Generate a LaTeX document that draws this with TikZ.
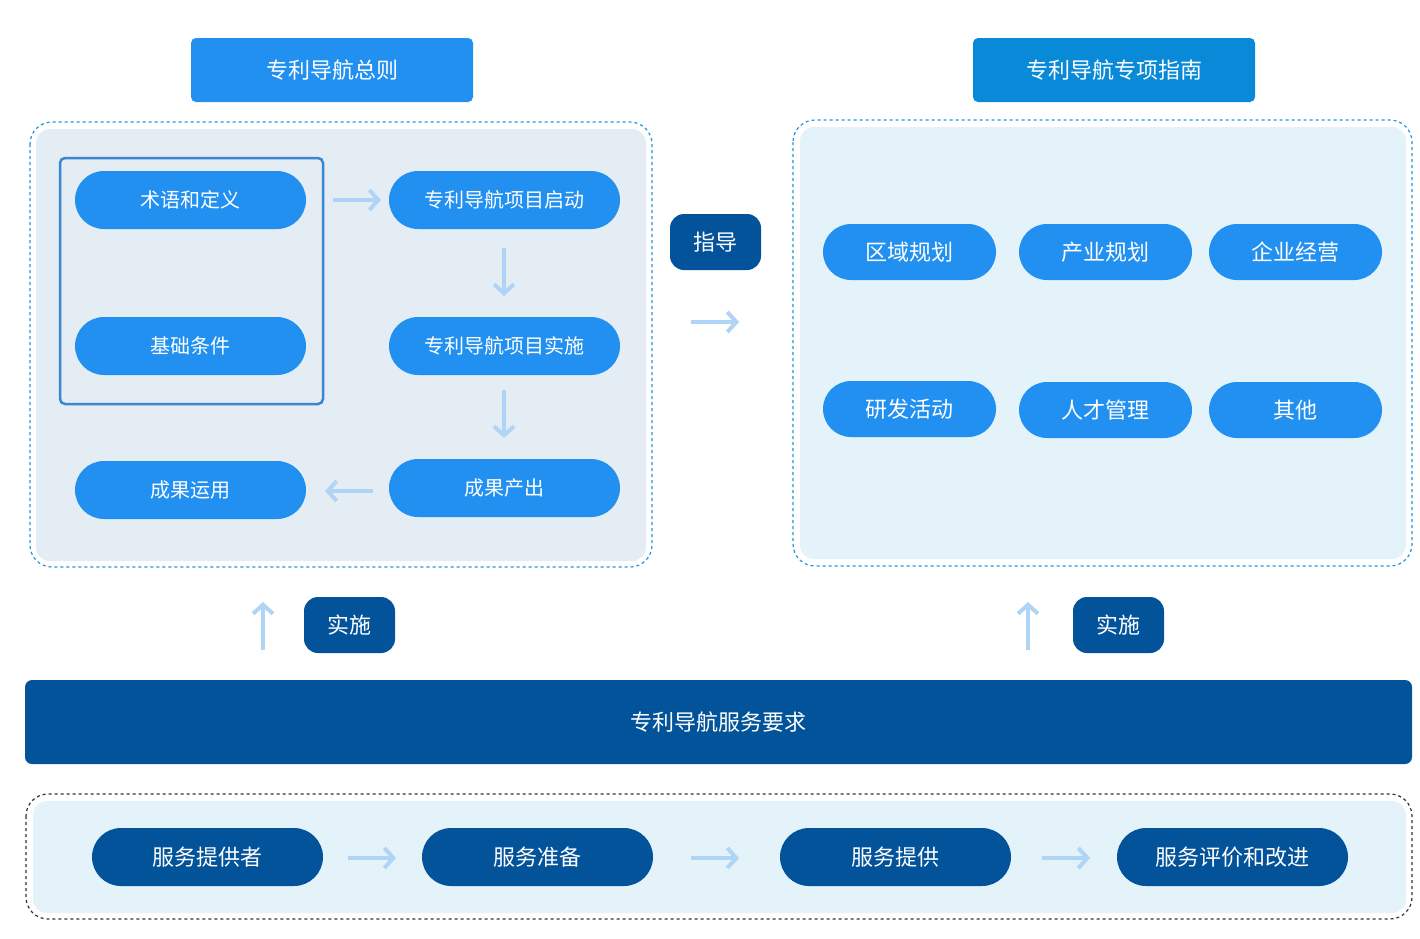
\documentclass[tikz,border=0pt]{standalone}
\usepackage{fontspec}
\setmainfont{Noto Sans CJK SC}
\usetikzlibrary{arrows.meta}
\definecolor{bb}{RGB}{33,144,240}
\definecolor{tb}{RGB}{8,138,216}
\definecolor{db}{RGB}{3,83,155}
\definecolor{gbg}{RGB}{228,236,244}
\definecolor{lbg}{RGB}{228,242,250}
\definecolor{ar}{RGB}{176,212,246}
\definecolor{dashc}{RGB}{30,150,220}
\definecolor{fr}{RGB}{58,134,208}
\tikzset{
 pill/.style={fill=bb,rounded corners=29pt,text=white,font=\fontsize{20}{24}\selectfont},
 dpill/.style={pill,fill=db,font=\fontsize{22}{26}\selectfont},
 rpill/.style={pill,rounded corners=28pt,font=\fontsize{22}{26}\selectfont},
 tag/.style={fill=db,rounded corners=14pt,text=white,font=\fontsize{22}{26}\selectfont},
 ttl/.style={rounded corners=5pt,text=white,font=\fontsize{22}{26}\selectfont},
 arr/.style={draw=ar,line width=4pt,-{Straight Barb[length=9pt,width=20pt,line width=4pt]}},
}
\begin{document}
\begin{tikzpicture}[x=1pt,y=-1pt]
\useasboundingbox (0,0) rectangle (1420,938);
% panels
\draw[dashc,dashed,line width=1.2pt,rounded corners=22pt] (30,122) rectangle (652,567);
\fill[gbg,rounded corners=14pt] (36,129) rectangle (646,561);
\draw[dashc,dashed,line width=1.2pt,rounded corners=22pt] (793,120) rectangle (1412,566);
\fill[lbg,rounded corners=14pt] (800,127) rectangle (1406,559);
\draw[black!80,dashed,line width=1.2pt,rounded corners=22pt] (26,794) rectangle (1412,919);
\fill[lbg,rounded corners=14pt] (33,801) rectangle (1406,913);
\draw[fr,line width=2.5pt,rounded corners=5pt] (60,158) rectangle (323,404);
% titles
\node[ttl,fill=bb,minimum width=282pt,minimum height=64pt] (t1) at (332,70) {专利导航总则};
\node[ttl,fill=tb,minimum width=282pt,minimum height=64pt] (t2) at (1114,70) {专利导航专项指南};
% left pills
\node[pill,minimum width=231pt,minimum height=58pt] (a) at (190.5,200) {术语和定义};
\node[pill,minimum width=231pt,minimum height=58pt] (b) at (190.5,346) {基础条件};
\node[pill,minimum width=231pt,minimum height=58pt] (c) at (190.5,490) {成果运用};
\node[pill,minimum width=231pt,minimum height=58pt] (d) at (504.5,200) {专利导航项目启动};
\node[pill,minimum width=231pt,minimum height=58pt] (e) at (504.5,346) {专利导航项目实施};
\node[pill,minimum width=231pt,minimum height=58pt] (f) at (504.5,488) {成果产出};
\coordinate (a1) at (333,200); \coordinate (a2) at (381,200);
\draw[arr] (a1) -- (a2);
\coordinate (d1) at (504,248); \coordinate (d2) at (504,296);
\draw[arr] (d1) -- (d2);
\coordinate (e1) at (504,390); \coordinate (e2) at (504,438);
\draw[arr] (e1) -- (e2);
\coordinate (f1) at (373,491); \coordinate (f2) at (325,491);
\draw[arr] (f1) -- (f2);
% guide
\node[tag,minimum width=91pt,minimum height=56pt] (g) at (715.5,242) {指导};
\coordinate (g1) at (691,322); \coordinate (g2) at (739,322);
\draw[arr] (g1) -- (g2);
% right pills
\foreach \n/\x/\y/\t in {r1/909.5/252/区域规划,r2/1105.5/252/产业规划,r3/1295.5/252/企业经营,r4/909.5/409/研发活动,r5/1105.5/410/人才管理,r6/1295.5/410/其他}
  \node[rpill,minimum width=173pt,minimum height=56pt] (\n) at (\x,\y) {\t};
% implement
\node[tag,minimum width=91pt,minimum height=56pt] (s1) at (349.5,625) {实施};
\node[tag,minimum width=91pt,minimum height=56pt] (s2) at (1118.5,625) {实施};
\coordinate (u1) at (263,650); \coordinate (u2) at (263,602);
\draw[arr] (u1) -- (u2);
\coordinate (v1) at (1028,650); \coordinate (v2) at (1028,602);
\draw[arr] (v1) -- (v2);
% bar
\node[fill=db,rounded corners=7pt,minimum width=1387pt,minimum height=84pt,text=white,font=\fontsize{22}{26}\selectfont] (bar) at (718.5,722) {专利导航服务要求};
% bottom
\node[dpill,minimum width=231pt,minimum height=58pt] (p1) at (207.5,857) {服务提供者};
\node[dpill,minimum width=231pt,minimum height=58pt] (p2) at (537.5,857) {服务准备};
\node[dpill,minimum width=231pt,minimum height=58pt] (p3) at (895.5,857) {服务提供};
\node[dpill,minimum width=231pt,minimum height=58pt] (p4) at (1232.5,857) {服务评价和改进};
\coordinate (b1) at (348,858); \coordinate (b2) at (396,858);
\draw[arr] (b1) -- (b2);
\coordinate (b3) at (691,858); \coordinate (b4) at (739,858);
\draw[arr] (b3) -- (b4);
\coordinate (b5) at (1042,858); \coordinate (b6) at (1090,858);
\draw[arr] (b5) -- (b6);
\end{tikzpicture}
\end{document}
